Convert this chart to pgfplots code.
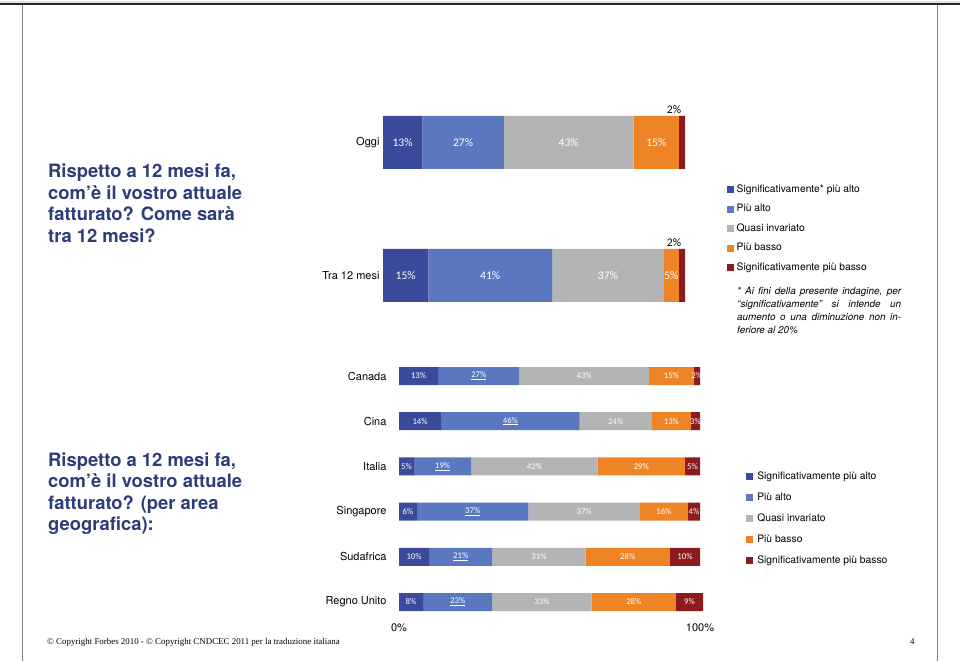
\documentclass[border=0pt]{standalone}
\usepackage{pgfplots}
\pgfplotsset{compat=1.18}
\usepackage{pgfplotstable}
\usepackage{fontspec}
\setmainfont{TeX Gyre Heros}
\newfontfamily\lblfont{Carlito}
\newfontfamily\seriffont{Liberation Serif}
\definecolor{csa}{HTML}{3B4A9B}
\definecolor{cpa}{HTML}{5A78C0}
\definecolor{cqi}{HTML}{B3B4B6}
\definecolor{cpb}{HTML}{EF8427}
\definecolor{csb}{HTML}{8C1A1F}
\definecolor{navy}{HTML}{2E3D7A}

% c: 0 = Tra 12 mesi, 1 = Oggi
\pgfplotstableread{
c sa pa qi pb sb
0 15 41 37 5 2
1 13 27 43 15 2
}\toptab
% c: 0 Regno Unito, 1 Sudafrica, 2 Singapore, 3 Italia, 4 Cina, 5 Canada
\pgfplotstableread{
c sa pa qi pb sb
0 8 23 33 28 9
1 10 21 31 28 10
2 6 37 37 16 4
3 5 19 42 29 5
4 14 46 24 13 3
5 13 27 43 15 2
}\bottab

\pgfplotsset{
  seg/.style 2 args={fill=#2, draw=none,
    visualization depends on={\thisrow{#1}\as\segv},
    nodes near coords={\pgfmathprintnumber{\segv}\%},
    every node near coord/.append style={anchor=center, text=white}},
  useg/.style 2 args={fill=#2, draw=none,
    visualization depends on={\thisrow{#1}\as\segv},
    nodes near coords={\underline{\pgfmathprintnumber{\segv}\%}},
    every node near coord/.append style={anchor=center, text=white}},
  sqlegend/.style={legend image code/.code={\fill[##1] (0pt,-3.5pt) rectangle (7pt,3.5pt);}},
}

\begin{document}
\begin{tikzpicture}[x=1pt,y=1pt]
\path (0,0) rectangle (960,661);
% frame
\fill[black!10] (0,659.5) rectangle (960,658.3);
\fill[black!85] (0,658) rectangle (960,655.8);
\draw[black!50,line width=0.8pt] (22,656) -- (22,0);
\draw[black!50,line width=0.8pt] (937,656) -- (937,0);

% titles
\begin{scope}[every node/.style={anchor=base west, inner sep=0pt, text=navy,
    font=\fontsize{18.4}{21}\selectfont\bfseries}]
\node at (48,{661-178}) {Rispetto a 12 mesi fa,};
\node at (48,{661-199.5}) {com’è il vostro attuale};
\node at (48,{661-221}) {fatturato? Come sarà};
\node at (48,{661-242.5}) {tra 12 mesi?};
\node at (48,{661-466}) {Rispetto a 12 mesi fa,};
\node at (48,{661-487.5}) {com’è il vostro attuale};
\node at (48,{661-509}) {fatturato? (per area};
\node at (48,{661-530.5}) {geografica):};
\end{scope}

% footnote
\begin{scope}[every node/.style={anchor=base west, inner sep=0pt,
    font=\fontsize{9.9}{12}\selectfont\itshape}]
\node at (737,{661-294.5}) {\makebox[164pt][s]{* Ai fini della presente indagine, per}};
\node at (737,{661-307.5}) {\makebox[164pt][s]{“significativamente” si intende un}};
\node at (737,{661-320.5}) {\makebox[164pt][s]{aumento o una diminuzione non in-}};
\node at (737,{661-333.5}) {feriore al 20\%};
\end{scope}

% footer
\node[anchor=base west, inner sep=0pt, font=\seriffont\fontsize{8.9}{10}\selectfont]
  at (47,{661-644}) {© Copyright Forbes 2010 - © Copyright CNDCEC 2011 per la traduzione italiana};
\node[anchor=base west, inner sep=0pt, font=\seriffont\fontsize{8.8}{10}\selectfont]
  at (910,{661-644}) {4};

% top chart
\begin{axis}[at={(383pt,319pt)}, anchor=south west, scale only axis,
  width=302pt, height=266pt,
  xbar stacked, bar width=53pt,
  xmin=0, xmax=100, ymin=-0.5, ymax=1.5,
  /pgf/number format/assume math mode=true,
  axis line style={draw=none}, major tick length=0pt,
  xtick=\empty, ytick={0,1}, yticklabels={Tra 12 mesi, Oggi},
  yticklabel style={font=\fontsize{11}{13}\selectfont},
  every node near coord/.append style={font=\lblfont\fontsize{11.6}{13}\selectfont},
  clip=false, sqlegend,
  legend style={at={(1.139,0.596)}, anchor=north west, draw=none, fill=none,
    inner sep=0pt, font=\fontsize{10.3}{12}\selectfont, row sep=7.6pt,
    nodes={inner sep=1pt, text height=7.6pt, text depth=2.3pt},
    /tikz/every odd column/.append style={column sep=1.5pt}},
  legend cell align=left]
\addplot[seg={sa}{csa}] table[x=sa,y=c]{\toptab};
\addlegendentry{Significativamente* più alto}
\addplot[seg={pa}{cpa}] table[x=pa,y=c]{\toptab};
\addlegendentry{Più alto}
\addplot[seg={qi}{cqi}] table[x=qi,y=c]{\toptab};
\addlegendentry{Quasi invariato}
\addplot[seg={pb}{cpb}] table[x=pb,y=c]{\toptab};
\addlegendentry{Più basso}
\addplot[seg={sb}{csb}, every node near coord/.append style={text=black, yshift=32.5pt, xshift=-8pt}] table[x=sb,y=c]{\toptab};
\addlegendentry{Significativamente più basso}
\end{axis}

% bottom chart
\begin{axis}[at={(399pt,36.4pt)}, anchor=south west, scale only axis,
  width=301pt, height=271.2pt,
  xbar stacked, bar width=18pt,
  xmin=0, xmax=100, ymin=-0.5, ymax=5.5,
  /pgf/number format/assume math mode=true,
  axis line style={draw=none}, major tick length=0pt,
  xtick={0,100}, xticklabels={0\%,100\%},
  xticklabel style={anchor=center, yshift=-3.4pt, font=\fontsize{11}{13}\selectfont},
  ytick={0,1,2,3,4,5},
  yticklabels={Regno Unito, Sudafrica, Singapore, Italia, Cina, Canada},
  yticklabel style={font=\fontsize{11}{13}\selectfont, xshift=-9pt},
  every node near coord/.append style={font=\lblfont\fontsize{8.7}{10}\selectfont},
  clip=false, sqlegend,
  legend style={at={(1.153,0.567)}, anchor=north west, draw=none, fill=none,
    inner sep=0pt, font=\fontsize{10.3}{12}\selectfont, row sep=9pt,
    nodes={inner sep=1pt, text height=7.6pt, text depth=2.3pt},
    /tikz/every odd column/.append style={column sep=3pt}},
  legend cell align=left]
\addplot[seg={sa}{csa}] table[x=sa,y=c]{\bottab};
\addlegendentry{Significativamente più alto}
\addplot[useg={pa}{cpa}] table[x=pa,y=c]{\bottab};
\addlegendentry{Più alto}
\addplot[seg={qi}{cqi}] table[x=qi,y=c]{\bottab};
\addlegendentry{Quasi invariato}
\addplot[seg={pb}{cpb}] table[x=pb,y=c]{\bottab};
\addlegendentry{Più basso}
\addplot[seg={sb}{csb}] table[x=sb,y=c]{\bottab};
\addlegendentry{Significativamente più basso}
\end{axis}
\end{tikzpicture}
\end{document}
